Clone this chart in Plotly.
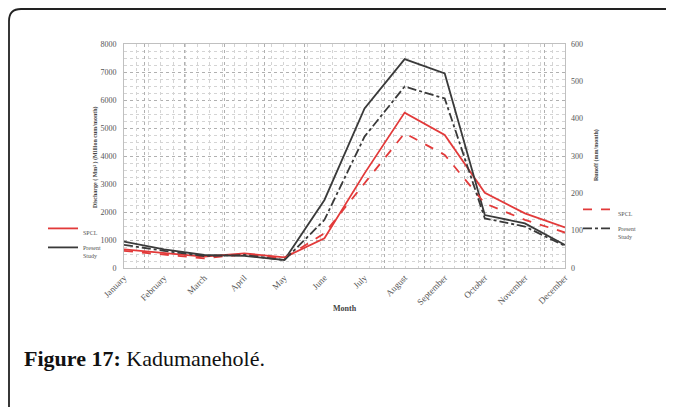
import plotly.graph_objects as go

months = ["January", "February", "March", "April", "May", "June", "July",
          "August", "September", "October", "November", "December"]

# Discharge (left axis)
discharge_present = [940, 667, 464, 430, 285, 2430, 5700, 7460, 6950, 1890, 1595, 820]
discharge_spcl = [667, 524, 405, 524, 380, 1060, 3380, 5550, 4750, 2690, 1950, 1450]

# Runoff (right axis)
runoff_present = [62, 46, 32, 35, 21, 129, 352, 486, 454, 133, 111, 59]
runoff_spcl = [46, 35, 26, 37, 26, 93, 227, 361, 303, 173, 129, 95]

left_ticks = [0, 1000, 2000, 3000, 4000, 5000, 6000, 7000, 8000]
right_ticks = [0, 100, 200, 300, 400, 500, 600]

# page (window) geometry; the page body adds an 8px offset
OFF = 8
PW, PH = 674, 407
W, H = PW - OFF, PH - OFF
L, R, T, B = 124, 565, 44, 268   # plot area in page pixels

def px(x):
    return (x - L) / (R - L)

def py(y):
    return (B - y) / (B - T)

RED = "#e23a3a"
BLK = "#3a3a3a"
SERIF = "Liberation Serif"

fig = go.Figure()
fig.add_trace(go.Scatter(x=[], y=[], xaxis="x2", showlegend=False, hoverinfo="skip"))
fig.add_trace(go.Scatter(x=months, y=discharge_spcl, name="SPCL", mode="lines",
                         line=dict(color=RED, width=1.8), legend="legend"))
fig.add_trace(go.Scatter(x=months, y=discharge_present, name="Present<br>Study", mode="lines",
                         line=dict(color=BLK, width=1.8), legend="legend"))
fig.add_trace(go.Scatter(x=months, y=runoff_spcl, name="SPCL", mode="lines", yaxis="y2",
                         line=dict(color=RED, width=1.8, dash="dash"), legend="legend2"))
fig.add_trace(go.Scatter(x=months, y=runoff_present, name="Present<br>Study", mode="lines", yaxis="y2",
                         line=dict(color=BLK, width=1.8, dash="dashdot"), legend="legend2"))

grid = dict(showgrid=True, gridcolor="#b0b0b0", griddash="dot", gridwidth=1)
minor = dict(showgrid=True, gridcolor="#d4d4d4", griddash="dot", gridwidth=1)

fig.update_layout(
    width=W, height=H,
    margin=dict(l=L - OFF, r=PW - R, t=T - OFF, b=PH - B, pad=0),
    paper_bgcolor="white", plot_bgcolor="white",
    font=dict(family=SERIF, size=7, color="#555"),
    xaxis=dict(type="category", tickangle=-45, tickson="boundaries", ticks="",
               tickfont=dict(family=SERIF, size=9, color="#555"),
               showline=True, linecolor="#c0c0c0", mirror=True,
               **grid),
    xaxis2=dict(overlaying="x", range=[-0.5, 11.5], tick0=-0.5, dtick=1 / 3,
                showticklabels=False, ticks="", zeroline=False, **minor),
    yaxis=dict(range=[0, 8000], tickvals=left_ticks, ticks="", ticklabelstandoff=5,
               tickfont=dict(family=SERIF, size=8, color="#555"),
               showline=True, linecolor="#c0c0c0", mirror=True, zeroline=False,
               minor=dict(dtick=250, **minor), **grid),
    yaxis2=dict(range=[0, 600], tickvals=right_ticks, overlaying="y", side="right",
                ticks="", showgrid=False, zeroline=False, ticklabelstandoff=5,
                tickfont=dict(family=SERIF, size=8, color="#555")),
    legend=dict(x=px(43), y=py(218), xanchor="left", yanchor="top", valign="top",
                font=dict(family=SERIF, size=6, color="#555"), bgcolor="rgba(0,0,0,0)",
                itemwidth=30, tracegroupgap=0),
    legend2=dict(x=px(578), y=py(199), xanchor="left", yanchor="top", valign="top",
                 font=dict(family=SERIF, size=6, color="#555"), bgcolor="rgba(0,0,0,0)",
                 itemwidth=30, tracegroupgap=0),
    showlegend=True,
)

annos = [
    dict(text="<b>Month</b>", x=px(345), y=py(308), font=dict(family=SERIF, size=8, color="#444")),
    dict(text="<b>Discharge ( Mm³ ) (Million cum/month)</b>", x=px(95), y=py(157), textangle=-90,
         font=dict(family=SERIF, size=6, color="#444")),
    dict(text="<b>Runoff (mm/month)</b>", x=px(596), y=py(155), textangle=-90,
         font=dict(family=SERIF, size=6, color="#444")),
    dict(text="<b>Figure 17:</b> Kadumaneholé.", x=px(22), y=py(358), xanchor="left",
         font=dict(family=SERIF, size=22, color="#111")),
]
for a in annos:
    a.setdefault("xanchor", "center")
    fig.add_annotation(xref="paper", yref="paper", yanchor="middle", showarrow=False, **a)

# Figure frame (rounded top-left corner)
x0, y0 = px(9), py(420)
xt, yt = px(680), py(9)
rx, ry = 12 / (R - L), 12 / (B - T)
path = (f"M {x0} {y0} L {x0} {yt - ry} Q {x0} {yt} {x0 + rx} {yt} L {xt} {yt}")
fig.add_shape(type="path", path=path, xref="paper", yref="paper",
              line=dict(color="#222", width=1.8))

fig.write_html("out.html")
